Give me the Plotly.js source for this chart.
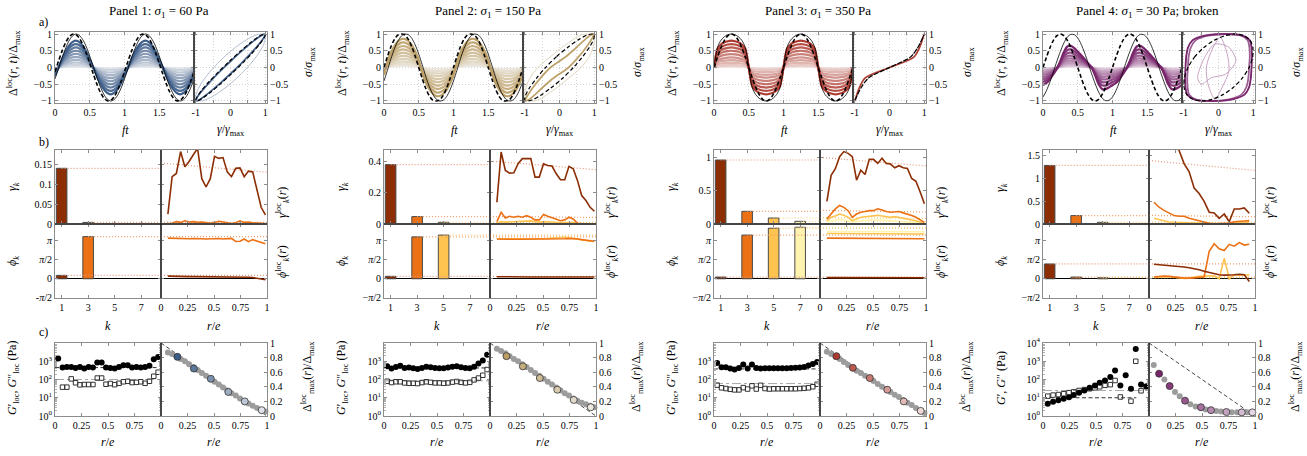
<!DOCTYPE html>
<html>
<head>
<meta charset="utf-8">
<script src="https://cdn.plot.ly/plotly-3.0.1.min.js"></script>
<style>
  body { margin: 0; background: #fff; }
  #chart { width: 1307px; height: 456px; }
</style>
</head>
<body>
<div id="chart"></div>
<script>
// ========================================
// DATA
// ========================================

// shared grids
const ftGrid = [0,0.05,0.1,0.15,0.2,0.25,0.3,0.35,0.4,0.45,0.5,0.55,0.6,0.65,0.7,0.75,0.8,0.85,0.9,0.95,
                1,1.05,1.1,1.15,1.2,1.25,1.3,1.35,1.4,1.45,1.5,1.55,1.6,1.65,1.7,1.75,1.8,1.85,1.9,1.95,2];
const kVals = [1, 3, 5, 7];
const rLoc = [0.065,0.105,0.145,0.185,0.225,0.265,0.305,0.345,0.385,0.425,0.465,0.505,
              0.545,0.585,0.625,0.665,0.705,0.745,0.785,0.825,0.865,0.905,0.945,0.985];
const rMod = [0.03,0.071,0.112,0.153,0.194,0.235,0.276,0.317,0.358,0.399,0.44,0.481,
              0.522,0.563,0.604,0.645,0.686,0.727,0.768,0.809,0.85,0.891,0.932,0.973];
const rP4 = [0.047,0.095,0.142,0.189,0.237,0.284,0.331,0.379,0.426,0.473,
             0.52,0.568,0.615,0.662,0.71,0.757,0.804,0.852,0.899,0.946];
const rP4c = [0.045,0.095,0.145,0.195,0.245,0.29,0.34,0.39,0.44,0.49,
              0.535,0.585,0.635,0.68,0.73,0.78,0.83,0.875,0.925,0.975];
const diagR = [0, 1];
const diagV = [1, 0];

// ---- Panel 1: sigma1 = 60 Pa ----
// one period (ft = 0 .. 1 by 0.05)
const p1Shape = [-0.31,0,0.31,0.59,0.81,0.95,1,0.95,0.81,0.59,0.31,0,-0.31,-0.59,-0.81,-0.95,-1,-0.95,-0.81,-0.59,-0.31];
const p1Sig   = [-0.125,0.187,0.482,0.729,0.905,0.992,0.982,0.876,0.685,0.426,0.125,-0.187,-0.482,-0.729,-0.905,-0.992,-0.982,-0.876,-0.685,-0.426,-0.125];
const p1Gam   = [-0.34,-0.03,0.28,0.56,0.79,0.94,1,0.96,0.83,0.62,0.34,0.03,-0.28,-0.56,-0.79,-0.94,-1,-0.96,-0.83,-0.62,-0.34];
const p1Loop  = [-0.59,-0.31,0,0.31,0.59,0.81,0.95,1,0.95,0.81,0.59,0.31,0,-0.31,-0.59,-0.81,-0.95,-1,-0.95,-0.81,-0.59];
const p1Amps  = [0.8,0.7,0.6,0.5,0.41,0.32,0.23,0.15,0.08,0.03];
const p1GamBar = [0.14, 0.004, null, null];
const p1PhiBar = [0.28, 3.5, null, null];
const p1Slope = [[0.153, 0.13], [0.004, 0.004]];
const p1G1 = [0.025,0.119,0.127,0.182,0.144,0.157,0.174,0.19,0.114,0.093,0.114,0.17,0.165,0.167,0.131,0.119,0.14,0.141,0.119,0.133,0.131,0.089,0.042,0.023];
const p1G3 = [0.001,0.002,0.006,0.004,0.008,0.005,0.006,0.004,0.005,0.003,0.002,0.004,0.007,0.005,0.003,0.001,0.003,0.008,0.004,0.005,0.003,0.002,0.002,0.001];
const p1P1 = [0.22,0.2,0.2,0.19,0.19,0.18,0.18,0.18,0.17,0.17,0.17,0.16,0.16,0.16,0.15,0.15,0.16,0.18,0.14,0.13,0.1,0.06,0.02,-0.08];
const p1P3 = [3.38,3.36,3.35,3.33,3.3,3.32,3.34,3.35,3.32,3.3,3.33,3.36,3.34,3.3,3.32,3.35,3.1,3.12,3.3,3.08,3.25,3.15,3.05,2.9];
const p1Gp  = [1400,450,490,490,430,490,400,490,450,850,850,450,430,400,490,600,600,450,490,450,490,560,1300,1700];
const p1Gpp = [null,38,38,108,66,51,53,53,53,120,120,55,60,52,62,75,80,68,70,75,62,80,150,250];
const p1GpLine = [450, 450];
const p1GppLine = [100, 100];
const p1Disp = [0.87,0.85,0.82,0.78,0.75,0.71,0.67,0.63,0.59,0.55,0.51,0.47,0.43,0.39,0.35,0.31,0.28,0.24,0.2,0.17,0.14,0.11,0.08,0.06];
const p1SelR = [0.155,0.31,0.47,0.635,0.79,0.95];
const p1SelV = [0.81,0.65,0.51,0.33,0.2,0.08];

// ---- Panel 2: sigma1 = 150 Pa ----
const p2Shape = [-0.26,0.19,0.51,0.74,0.9,0.99,0.99,0.92,0.78,0.56,0.26,-0.19,-0.51,-0.74,-0.9,-0.99,-0.99,-0.92,-0.78,-0.56,-0.26];
const p2Sig   = [0,0.33,0.62,0.84,0.97,1,0.97,0.84,0.62,0.33,0,-0.33,-0.62,-0.84,-0.97,-1,-0.97,-0.84,-0.62,-0.33,0];
const p2Gam   = [-0.4,-0.08,0.26,0.56,0.79,0.94,1,0.98,0.87,0.67,0.4,0.08,-0.26,-0.56,-0.79,-0.94,-1,-0.98,-0.87,-0.67,-0.4];
const p2Loop  = [-0.62,-0.25,0.1,0.4,0.62,0.8,0.93,1,0.97,0.86,0.62,0.25,-0.1,-0.4,-0.62,-0.8,-0.93,-1,-0.97,-0.86,-0.62];
const p2Amps  = [0.86,0.75,0.64,0.54,0.44,0.35,0.26,0.18,0.11,0.05];
const p2GamBar = [0.377, 0.047, 0.011, 0.002];
const p2PhiBar = [0.2, 3.48, 3.63, null];
const p2Slope = [[0.40, 0.345], [0.047, 0.042], [0.011, 0.01]];
const p2G1 = [0.138,0.457,0.34,0.323,0.325,0.383,0.415,0.415,0.415,0.298,0.298,0.383,0.372,0.368,0.319,0.281,0.281,0.366,0.351,0.277,0.181,0.149,0.106,0.081];
const p2G3 = [0.015,0.074,0.038,0.049,0.043,0.049,0.043,0.053,0.043,0.026,0.026,0.06,0.049,0.038,0.028,0.021,0.026,0.043,0.032,0.004,0.002,0.001,0.001,0.001];
const p2G5 = [0.005,0.015,0.012,0.013,0.014,0.015,0.016,0.017,0.02,0.015,0.012,0.015,0.016,0.013,0.01,0.01,0.012,0.013,0.01,0.005,0.003,0.002,0.001,0.001];
const p2P1 = [0.17,0.16,0.16,0.16,0.15,0.15,0.15,0.15,0.15,0.15,0.15,0.15,0.15,0.15,0.15,0.15,0.15,0.15,0.15,0.15,0.15,0.15,0.14,0.14];
const p2P3 = [3.3,3.28,3.27,3.27,3.28,3.28,3.28,3.28,3.28,3.28,3.28,3.29,3.29,3.29,3.29,3.3,3.32,3.35,3.35,3.3,3.25,3.2,3.15,3.12];
const p2P5 = [3.3,3.3,3.3,3.3,3.3,3.32,3.33,3.33,3.33,3.33,3.33,3.33,3.35,3.38,3.42,3.45,3.45,3.42,3.35,3.3,3.22,3.17,3.12,3.1];
const p2Gp  = [530,400,490,560,430,450,410,380,430,500,470,430,420,420,450,500,540,470,430,420,500,750,1100,2300];
const p2Gpp = [80,68,75,75,65,62,62,60,68,75,70,65,65,62,65,72,78,70,65,70,95,120,170,350];
const p2GpLine = [430, 430];
const p2GppLine = [85, 85];
const p2Disp = [0.92,0.89,0.86,0.82,0.78,0.75,0.71,0.67,0.63,0.59,0.55,0.51,0.47,0.43,0.39,0.35,0.31,0.28,0.24,0.21,0.18,0.16,0.14,0.12];
const p2SelR = [0.155,0.31,0.47,0.635,0.79,0.95];
const p2SelV = [0.82,0.68,0.52,0.36,0.22,0.12];

// ---- Panel 3: sigma1 = 350 Pa ----
const p3Shape = [0,0.7,0.86,0.94,0.98,1,0.98,0.94,0.86,0.7,0,-0.7,-0.86,-0.94,-0.98,-1,-0.98,-0.94,-0.86,-0.7,0];
const p3Sig   = [0,0.31,0.59,0.81,0.95,1,0.95,0.81,0.59,0.31,0,-0.31,-0.59,-0.81,-0.95,-1,-0.95,-0.81,-0.59,-0.31,0];
const p3Gam   = [0,0.6,0.81,0.92,0.98,1,0.98,0.92,0.81,0.6,0,-0.6,-0.81,-0.92,-0.98,-1,-0.98,-0.92,-0.81,-0.6,0];
const p3Amps  = [0.8,0.7,0.6,0.5,0.4,0.3,0.22,0.14,0.07,0.03];
const p3GamBar = [0.96, 0.19, 0.09, 0.04];
const p3PhiBar = [0.14, 3.63, 4.2, 4.28];
const p3Slope = [[1.0, 0.87], [0.205, 0.18], [0.095, 0.085], [0.045, 0.04]];
const p3G1 = [0.338,0.73,0.83,1.01,1.086,1.06,1.01,0.657,0.808,0.742,0.97,0.97,0.909,0.985,0.909,0.899,0.843,0.874,0.843,0.833,0.682,0.641,0.48,0.303];
const p3G3 = [0.076,0.16,0.227,0.278,0.25,0.2,0.1,0.15,0.177,0.187,0.2,0.2,0.227,0.21,0.187,0.177,0.187,0.187,0.167,0.15,0.126,0.1,0.06,0.025];
const p3G5 = [0.05,0.1,0.12,0.15,0.13,0.1,0.05,0.08,0.1,0.11,0.12,0.12,0.13,0.12,0.11,0.1,0.11,0.1,0.09,0.08,0.07,0.05,0.03,0.01];
const p3G7 = [0.03,0.05,0.06,0.07,0.06,0.05,0.03,0.04,0.05,0.055,0.06,0.06,0.065,0.06,0.055,0.05,0.055,0.05,0.045,0.04,0.035,0.025,0.015,0.005];
const p3P1 = [0.09,0.09,0.09,0.09,0.09,0.09,0.09,0.09,0.09,0.09,0.09,0.09,0.09,0.09,0.09,0.09,0.09,0.09,0.09,0.09,0.09,0.08,0.08,0.08];
const p3P3 = [3.38,3.38,3.37,3.37,3.37,3.37,3.37,3.37,3.37,3.37,3.36,3.36,3.36,3.36,3.36,3.35,3.35,3.35,3.34,3.34,3.33,3.33,3.32,3.32];
const p3P5 = [3.76,3.76,3.75,3.75,3.75,3.75,3.75,3.75,3.74,3.74,3.74,3.74,3.74,3.74,3.73,3.73,3.73,3.73,3.73,3.72,3.72,3.72,3.72,3.72];
const p3P7 = [3.93,3.93,3.93,3.92,3.92,3.92,3.92,3.92,3.92,3.92,3.91,3.91,3.91,3.91,3.91,3.91,3.9,3.9,3.9,3.9,3.9,3.9,3.9,3.9];
const p3Gp  = [810,470,470,400,350,430,660,400,660,430,400,420,420,420,420,420,420,430,440,450,480,580,715,920];
const p3Gpp = [49,35,32,29,27,27,36,30,45,30,48,32,30,31,31,31,31,31,31,32,33,35,40,55];
const p3GpLine = [380, 380];
const p3GppLine = [60, 60];
const p3Disp = [0.88,0.85,0.81,0.78,0.74,0.7,0.66,0.62,0.59,0.55,0.52,0.48,0.44,0.4,0.37,0.33,0.29,0.26,0.22,0.18,0.15,0.11,0.07,0.04];
const p3SelR = [0.155,0.31,0.47,0.635,0.79,0.95];
const p3SelV = [0.82,0.66,0.52,0.36,0.2,0.07];

// ---- Panel 4: sigma1 = 30 Pa; broken ----
const p4Shape = [-0.79,-0.7,-0.52,-0.3,-0.06,0.3,0.7,0.95,0.98,0.88,0.72,0.55,0.38,0.18,0,-0.35,-0.75,-0.97,-0.98,-0.9,-0.79];
const p4Sig   = [0,0.31,0.59,0.81,0.95,1,0.95,0.81,0.59,0.31,0,-0.31,-0.59,-0.81,-0.95,-1,-0.95,-0.81,-0.59,-0.31,0];
const p4Gam   = [-0.88,-0.69,-0.43,-0.13,0.19,0.48,0.73,0.91,0.99,0.98,0.88,0.69,0.43,0.13,-0.19,-0.48,-0.73,-0.91,-0.99,-0.98,-0.88];
const p4LoopX = [-0.95,-0.93,-0.88,-0.75,-0.4,0.2,0.7,0.9,0.95,0.96,0.95,0.93,0.88,0.75,0.4,-0.2,-0.7,-0.9,-0.95,-0.96,-0.95];
const p4LoopX2 = [-0.88,-0.86,-0.8,-0.66,-0.3,0.25,0.66,0.84,0.89,0.9,0.88,0.86,0.8,0.66,0.3,-0.25,-0.66,-0.84,-0.89,-0.9,-0.88];
const p4WobX  = [-0.1,0.1,0.3,0.25,0.05,-0.2,-0.35,-0.3,-0.1];
const p4WobY  = [-0.95,-0.6,-0.1,0.4,0.9,0.5,0,-0.5,-0.95];
const p4WobX2 = [-0.6,-0.4,-0.1,0.3,0.5,0.2,-0.2,-0.5,-0.6];
const p4WobY2 = [-0.3,0.3,0.7,0.6,0.2,-0.2,-0.3,-0.5,-0.3];
const p4Amps  = [0.66,0.55,0.45,0.36,0.28,0.21,0.15,0.1,0.06,0.03];
const p4GamBar = [1.29, 0.185, 0.037, 0.005];
const p4PhiBar = [1.23, 0.14, 0.09, null];
const p4Slope = [[1.4, 1.18], [0.19, 0.16], [0.04, 0.035]];
const p4G1 = [3.0,2.8,2.5,2.2,1.9,1.6,1.33,1.15,0.79,0.67,0.5,0.26,0.245,0.125,0.22,0.05,0.33,0.33,0.355,0.236];
const p4G3 = [0.48,0.37,0.3,0.25,0.185,0.17,0.17,0.125,0.096,0.074,0.037,0.015,0.007,0.007,0.007,0.02,0.05,0.05,0.066,0.074];
const p4G5 = [0.125,0.096,0.066,0.044,0.037,0.03,0.028,0.025,0.022,0.02,0.015,0.01,0.008,0.006,0.006,0.01,0.02,0.03,0.035,0.044];
const p4P1 = [1.2,1.17,1.14,1.1,1.06,1.02,0.98,0.92,0.85,0.75,0.62,0.5,0.4,0.33,0.3,0.3,0.33,0.37,0.34,-0.23];
const p4P3 = [0.14,0.2,0.23,0.2,0.15,0.08,0.05,0.05,0.1,0.14,0.15,2.28,2.91,2.49,2.34,2.86,2.71,3.0,2.8,2.86];
const p4P5 = [0.1,0.12,0.15,0.18,0.12,0.05,0.03,0.05,0.15,0.2,0.22,0.25,0.25,0,1.71,0,0.34,0.29,0.3,0.32];
const p4Gp  = [4.7,6,7.2,8.8,10.8,14,19,25,35,47,66,88,135,310,47,170,31,4700,53,43];
const p4Gpp = [12.3,14,15,16.5,19,21,25,28,31,35,40,48,52,88,11,null,6.5,1000,24,40];
const p4GpLine = [10, 10];
const p4GppLine = [25, 25];
const p4Disp = [0.7,0.58,0.5,0.41,0.33,0.27,0.21,0.16,0.13,0.11,0.09,0.08,0.07,0.06,0.055,0.05,0.05,0.05,0.05,0.05];
const p4SelR = [0.095,0.195,0.34,0.49,0.585,0.73,0.875,0.975];
const p4SelV = [0.58,0.41,0.21,0.12,0.08,0.055,0.05,0.05];

// ========================================
// STYLE / LAYOUT HELPERS
// ========================================

const W = 1307, H = 456;
const FONT = 'Liberation Serif';
const FRAME = '#8c8c8c';
const HARM = ['#8c2d04', '#ec7014', '#fec44f', '#fff3b0'];
const HARM_DOT = ['#e39a7c', '#ef9f6a', '#f6c676', '#f8dc98'];
const DASH = '4px,2.5px';
const DOT = '1px,2px';
const TICK_SIZE = 10;
const LABEL_SIZE = 12;

const panels = [
    { L: 55, title: 'Panel 1: <i>σ</i><sub>1</sub> = 60 Pa', dark: '#3c5c88', light: '#dfe3e9',
      shape: p1Shape, sig: p1Sig, gam: p1Gam, amps: p1Amps, loopX: [p1Shape], loops: [[p1Loop, p1Sig]],
      gBar: p1GamBar, pBar: p1PhiBar, gRange: [0, 0.186], gTicks: [0, 0.05, 0.1, 0.15],
      rb: rLoc, gLoc: [p1G1, p1G3], pLoc: [p1P1, p1P3], slope: p1Slope, minus: '-',
      rc: rMod, gp: p1Gp, gpp: p1Gpp, gpLine: p1GpLine, gppLine: p1GppLine, gpEnd: 0.96,
      rd: rLoc, disp: p1Disp, selR: p1SelR, selV: p1SelV, loc: true, top4: false },
    { L: 384, title: 'Panel 2: <i>σ</i><sub>1</sub> = 150 Pa', dark: '#bc9f66', light: '#ece8df',
      shape: p2Shape, sig: p2Sig, gam: p2Gam, amps: p2Amps, loopX: [p2Shape], loops: [[p2Loop, p2Sig]],
      gBar: p2GamBar, pBar: p2PhiBar, gRange: [0, 0.47], gTicks: [0, 0.2, 0.4],
      rb: rLoc, gLoc: [p2G1, p2G3, p2G5], pLoc: [p2P1, p2P3, p2P5], slope: p2Slope, minus: '−',
      rc: rMod, gp: p2Gp, gpp: p2Gpp, gpLine: p2GpLine, gppLine: p2GppLine, gpEnd: 0.97,
      rd: rLoc, disp: p2Disp, selR: p2SelR, selV: p2SelV, loc: true, top4: false },
    { L: 714, title: 'Panel 3: <i>σ</i><sub>1</sub> = 350 Pa', dark: '#ad3a30', light: '#eed9d6',
      shape: p3Shape, sig: p3Sig, gam: p3Gam, amps: p3Amps, loopX: [p3Shape], loops: [],
      gBar: p3GamBar, pBar: p3PhiBar, gRange: [0, 1.11], gTicks: [0, 0.5, 1],
      rb: rLoc, gLoc: [p3G1, p3G3, p3G5, p3G7], pLoc: [p3P1, p3P3, p3P5, p3P7], slope: p3Slope, minus: '−',
      rc: rMod, gp: p3Gp, gpp: p3Gpp, gpLine: p3GpLine, gppLine: p3GppLine, gpEnd: 0.97,
      rd: rLoc, disp: p3Disp, selR: p3SelR, selV: p3SelV, loc: true, top4: false },
    { L: 1043, title: 'Panel 4: <i>σ</i><sub>1</sub> = 30 Pa; broken', dark: '#77246a', light: '#e6d5e4',
      shape: p4Shape, sig: p4Sig, gam: p4Gam, amps: p4Amps, loopX: [p4LoopX2, p4LoopX],
      loops: [[p4WobX, p4WobY], [p4WobX2, p4WobY2]],
      gBar: p4GamBar, pBar: p4PhiBar, gRange: [0, 1.63], gTicks: [0, 0.5, 1, 1.5],
      rb: rP4, gLoc: [p4G1, p4G3, p4G5], pLoc: [p4P1, p4P3, p4P5], slope: p4Slope, minus: '−',
      rc: rP4c, gp: p4Gp, gpp: p4Gpp, gpLine: p4GpLine, gppLine: p4GppLine, gpEnd: 0.88,
      rd: rP4c, disp: p4Disp, selR: p4SelR, selV: p4SelV, loc: false, top4: true }
];

function hexToRgb(h) {
    const n = parseInt(h.slice(1), 16);
    return [(n >> 16) & 255, (n >> 8) & 255, n & 255];
}
function ramp(dark, light, n) {
    const a = hexToRgb(dark), b = hexToRgb(light);
    const out = [];
    for (let i = 0; i < n; i++) {
        const t = n === 1 ? 0 : i / (n - 1);
        out.push('rgb(' + a.map((v, j) => Math.round(v + (b[j] - v) * t)).join(',') + ')');
    }
    return out;
}
// two periods of a one-period waveform
function twoPeriods(a) { return a.concat(a.slice(1)); }

const traces = [];
const annotations = [];
const shapes = [];
const layout = {
    width: W, height: H,
    margin: { l: 0, r: 0, t: 0, b: 0 },
    paper_bgcolor: '#fff', plot_bgcolor: '#fff',
    showlegend: false, hovermode: false,
    font: { family: FONT, size: 11, color: '#000' }
};

function baseAxis(extra) {
    return Object.assign({
        showline: true, linecolor: FRAME, linewidth: 1, mirror: 'ticks',
        ticks: 'inside', ticklen: 3, tickwidth: 1, tickcolor: FRAME,
        showgrid: false, zeroline: false, fixedrange: true,
        tickfont: { family: FONT, size: TICK_SIZE, color: '#000' }
    }, extra);
}

let nAx = 0;
function subplot(x0, x1, y0, y1, xo, yo) {
    nAx += 1;
    const s = nAx === 1 ? '' : String(nAx);
    layout['xaxis' + s] = baseAxis(Object.assign({ domain: [x0 / W, x1 / W], anchor: 'y' + s }, xo));
    layout['yaxis' + s] = baseAxis(Object.assign({ domain: [1 - y1 / H, 1 - y0 / H], anchor: 'x' + s }, yo));
    return { xaxis: 'x' + s, yaxis: 'y' + s };
}

function label(text, px, py, angle, size) {
    annotations.push({
        text: text, x: px / W, y: 1 - py / H, xref: 'paper', yref: 'paper',
        xanchor: 'center', yanchor: 'middle', showarrow: false, textangle: angle || 0,
        font: { family: FONT, size: size || LABEL_SIZE, color: '#000' }
    });
}

function vline(px, py0, py1) {
    shapes.push({ type: 'line', xref: 'paper', yref: 'paper', layer: 'above',
        x0: px / W, x1: px / W, y0: 1 - py0 / H, y1: 1 - py1 / H, line: { color: '#000', width: 1 } });
}
function hline(py, px0, px1) {
    shapes.push({ type: 'line', xref: 'paper', yref: 'paper', layer: 'above',
        x0: px0 / W, x1: px1 / W, y0: 1 - py / H, y1: 1 - py / H, line: { color: '#000', width: 1 } });
}

const gridA = { showgrid: true, gridcolor: '#d4d4d4', griddash: DOT, gridwidth: 1 };
const unitTicks = [-1, -0.5, 0, 0.5, 1];
const unitText = ['−1', '−0.5', '0', '0.5', '1'];
const rTicks = [0, 0.25, 0.5, 0.75, 1];
const phiTicks = [-Math.PI / 2, 0, Math.PI / 2, Math.PI];
const PHI_RANGE = [-1.6, 4.55];

const minorLog = [];
[1, 10, 100, 1000].forEach(d => { for (let m = 2; m <= 9; m++) minorLog.push(m * d); });

// ========================================
// BUILD PANELS
// ========================================

panels.forEach(P => {
    const L = P.L;
    const cols = ramp(P.dark, P.light, P.amps.length);

    // ---- row a: waveforms and Lissajous loops ----
    const a1 = subplot(L, L + 139, 32, 103,
        Object.assign({ range: [0, 2], tickvals: [0, 0.5, 1, 1.5, 2], ticktext: ['0', '0.5', '1', '1.5', ''] }, gridA),
        Object.assign({ range: [-1.06, 1.06], tickvals: unitTicks, ticktext: unitText }, gridA));
    const a2 = subplot(L + 139, L + 212, 32, 103,
        Object.assign({ range: [-1.05, 1.05], tickvals: unitTicks, ticktext: ['-1', '', '0', '', '1'] }, gridA),
        Object.assign({ range: [-1.06, 1.06], tickvals: unitTicks, ticktext: unitText, side: 'right' }, gridA));

    for (let i = P.amps.length - 1; i >= 0; i--) {
        traces.push(Object.assign({ type: 'scatter', mode: 'lines', x: ftGrid,
            y: twoPeriods(P.shape).map(v => v * P.amps[i]),
            line: { color: cols[i], width: 2.2, shape: 'spline', smoothing: 0.8 } }, a1));
    }
    traces.push(Object.assign({ type: 'scatter', mode: 'lines', x: ftGrid, y: twoPeriods(P.gam),
        line: { color: '#000', width: 0.8, shape: 'spline', smoothing: 0.8 } }, a1));
    traces.push(Object.assign({ type: 'scatter', mode: 'lines', x: ftGrid, y: twoPeriods(P.sig),
        line: { color: '#000', width: 1.6, dash: DASH, shape: 'spline', smoothing: 0.8 } }, a1));

    P.loops.forEach(lp => {
        traces.push(Object.assign({ type: 'scatter', mode: 'lines', x: lp[0], y: lp[1],
            line: { color: cols[6], width: 0.9, shape: 'spline', smoothing: 0.8 } }, a2));
    });
    P.loopX.forEach((lx, j) => {
        traces.push(Object.assign({ type: 'scatter', mode: 'lines', x: lx, y: P.sig,
            line: { color: cols[3 - j * 2], width: 1.8, shape: 'spline', smoothing: 0.8 } }, a2));
    });
    traces.push(Object.assign({ type: 'scatter', mode: 'lines', x: P.loopX[P.loopX.length - 1], y: P.sig,
        line: { color: cols[0], width: 1.1, shape: 'spline', smoothing: 0.8 } }, a2));
    traces.push(Object.assign({ type: 'scatter', mode: 'lines', x: P.gam, y: P.sig,
        line: { color: '#000', width: 1.2, dash: DASH, shape: 'spline', smoothing: 0.8 } }, a2));

    // ---- row b: harmonics ----
    const phiText = [P.minus + '<i>π</i>/2', '0', '<i>π</i>/2', '<i>π</i>'];
    const bt = subplot(L, L + 106, 150, 224,
        { range: [0.5, 8.5], tickvals: kVals, showticklabels: false },
        { range: P.gRange, tickvals: P.gTicks, ticktext: P.gTicks.map(String) });
    const bb = subplot(L, L + 106, 224, 298,
        { range: [0.5, 8.5], tickvals: kVals, ticktext: kVals.map(String) },
        { range: PHI_RANGE, tickvals: phiTicks, ticktext: phiText, zeroline: true, zerolinecolor: '#000', zerolinewidth: 1 });
    const btr = subplot(L + 106, L + 212, 150, 224,
        { range: [0, 1], tickvals: rTicks, showticklabels: false },
        { range: P.gRange, tickvals: P.gTicks, side: 'right', showticklabels: false });
    const bbr = subplot(L + 106, L + 212, 224, 298,
        { range: [0, 1], tickvals: rTicks, ticktext: ['0', '0.25', '0.5', '0.75', '1'] },
        { range: PHI_RANGE, tickvals: phiTicks, side: 'right', showticklabels: false,
          zeroline: true, zerolinecolor: '#000', zerolinewidth: 1 });

    P.gBar.forEach((v, i) => {
        if (v === null) return;
        traces.push(Object.assign({ type: 'scatter', mode: 'lines', x: [kVals[i], 8.5], y: [v, v],
            line: { color: HARM_DOT[i], width: 1.2, dash: DOT } }, bt));
    });
    P.pBar.forEach((v, i) => {
        if (v === null) return;
        traces.push(Object.assign({ type: 'scatter', mode: 'lines', x: [kVals[i], 8.5], y: [v, v],
            line: { color: HARM_DOT[i], width: 1.2, dash: DOT } }, bb));
        traces.push(Object.assign({ type: 'scatter', mode: 'lines', x: [0, 1], y: [v, v],
            line: { color: HARM_DOT[i], width: 1.2, dash: DOT } }, bbr));
    });
    traces.push(Object.assign({ type: 'bar', x: kVals, y: P.gBar, width: 0.8,
        marker: { color: HARM, line: { color: '#4a4a4a', width: 1 } } }, bt));
    traces.push(Object.assign({ type: 'bar', x: kVals, y: P.pBar, width: 0.8,
        marker: { color: HARM, line: { color: '#4a4a4a', width: 1 } } }, bb));

    P.slope.forEach((s, i) => {
        traces.push(Object.assign({ type: 'scatter', mode: 'lines', x: [0, 1], y: s,
            line: { color: HARM_DOT[i], width: 1.2, dash: DOT } }, btr));
    });
    for (let i = P.gLoc.length - 1; i >= 0; i--) {
        traces.push(Object.assign({ type: 'scatter', mode: 'lines', x: P.rb, y: P.gLoc[i],
            line: { color: HARM[i], width: 1.6 } }, btr));
    }
    for (let i = P.pLoc.length - 1; i >= 0; i--) {
        traces.push(Object.assign({ type: 'scatter', mode: 'lines', x: P.rb, y: P.pLoc[i],
            line: { color: HARM[i], width: 1.6 } }, bbr));
    }

    // ---- row c: local moduli & displacement amplitude ----
    const logText = ['10<sup>0</sup>', '10<sup>1</sup>', '10<sup>2</sup>', '10<sup>3</sup>', P.top4 ? '10<sup>4</sup>' : ''];
    const cl = subplot(L, L + 106, 343, 416,
        { range: [0, 1], tickvals: rTicks, ticktext: ['0', '0.25', '0.5', '0.75', ''] },
        { type: 'log', range: [0, 4], tickvals: [1, 10, 100, 1000, 10000], ticktext: logText,
          minor: { tickvals: minorLog, ticks: 'inside', ticklen: 2, tickcolor: '#b0b0b0' } });
    const cr = subplot(L + 106, L + 212, 343, 416,
        { range: [0, 1], tickvals: rTicks, ticktext: ['0', '0.25', '0.5', '0.75', '1'] },
        { range: [0, 1], tickvals: [0, 0.2, 0.4, 0.6, 0.8, 1], ticktext: ['0', '0.2', '0.4', '0.6', '0.8', '1'], side: 'right' });

    traces.push(Object.assign({ type: 'scatter', mode: 'lines', x: [0, 1], y: P.gppLine,
        line: { color: '#a8a8a8', width: 1, dash: 'dashdot' } }, cl));
    traces.push(Object.assign({ type: 'scatter', mode: 'lines', x: [0, P.gpEnd], y: P.gpLine,
        line: { color: '#333', width: 1, dash: DASH } }, cl));
    traces.push(Object.assign({ type: 'scatter', mode: 'markers', x: P.rc, y: P.gpp, cliponaxis: false,
        marker: { symbol: 'square-open', size: 4.5, color: '#333', line: { width: 1 } } }, cl));
    traces.push(Object.assign({ type: 'scatter', mode: 'markers', x: P.rc, y: P.gp, cliponaxis: false,
        marker: { symbol: 'circle', size: 6, color: '#000' } }, cl));

    traces.push(Object.assign({ type: 'scatter', mode: 'lines', x: diagR, y: diagV,
        line: { color: '#333', width: 0.9, dash: DASH } }, cr));
    traces.push(Object.assign({ type: 'scatter', mode: 'markers', x: P.rd, y: P.disp, cliponaxis: false,
        marker: { size: 6, color: '#9c9c9c' } }, cr));
    traces.push(Object.assign({ type: 'scatter', mode: 'markers', x: P.selR, y: P.selV, cliponaxis: false,
        marker: { size: 7, color: ramp(P.dark, P.light, P.selR.length), line: { color: '#333', width: 0.8 } } }, cr));

    // ---- separators ----
    vline(L + 139, 32, 103);
    vline(L + 106, 150, 298);
    hline(224, L, L + 212);
    vline(L + 106, 343, 416);

    // ---- texts ----
    label(P.title, L + 104, 11, 0, 13);
    label('Δ<sup>loc</sup>(<i>r</i>, <i>t</i>)/Δ<sub>max</sub>', L - 42, 63, -90);
    label('<i>σ</i>/<i>σ</i><sub>max</sub>', L + 254, 62, -90);
    label('<i>ft</i>', L + 70, 130);
    label('<i>γ</i>/<i>γ</i><sub>max</sub>', L + 176, 130);
    label('<i>γ<sub>k</sub></i>', L - 42, 187, -90);
    label('<i>ϕ<sub>k</sub></i>', L - 42, 261, -90);
    label('<i>γ</i><sup>loc</sup><sub><i>k</i></sub>(<i>r</i>)', L + 227, 203, -90);
    label('<i>ϕ</i><sup>loc</sup><sub><i>k</i></sub>(<i>r</i>)', L + 227, 262, -90);
    label('<i>k</i>', L + 53, 326);
    label('<i>r</i>/<i>e</i>', L + 159, 326);
    label(P.loc ? '<i>G</i>′<sub>loc</sub>, <i>G</i>″<sub>loc</sub> (Pa)' : '<i>G</i>′, <i>G</i>″ (Pa)', L - 42, 378, -90);
    label('Δ<sup>loc</sup><sub>max</sub>(<i>r</i>)/Δ<sub>max</sub>', L + 252, 377, -90);
    label('<i>r</i>/<i>e</i>', L + 53, 442);
    label('<i>r</i>/<i>e</i>', L + 159, 442);
});

label('a)', 43, 22);
label('b)', 44, 142);
label('c)', 43, 332);

layout.annotations = annotations;
layout.shapes = shapes;

Plotly.newPlot('chart', traces, layout, { staticPlot: true, displayModeBar: false });
</script>
</body>
</html>
